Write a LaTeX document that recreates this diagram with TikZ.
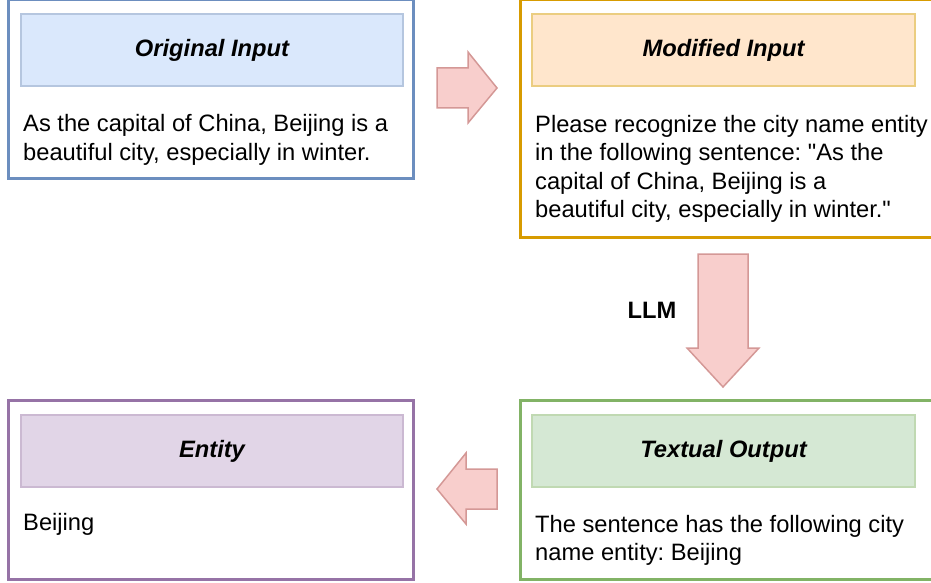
\documentclass[tikz,border=0pt]{standalone}
\usepackage{fontspec}
\setmainfont{Liberation Sans}
\usetikzlibrary{positioning}
\usetikzlibrary{calc}
\definecolor{blaurand}{HTML}{6C8EBF}
\definecolor{blaufuell}{HTML}{DAE8FC}
\definecolor{orangerand}{HTML}{D79B00}
\definecolor{orangefuell}{HTML}{FFE6CC}
\definecolor{gruenrand}{HTML}{82B366}
\definecolor{gruenfuell}{HTML}{D5E8D4}
\definecolor{lilarand}{HTML}{9673A6}
\definecolor{lilafuell}{HTML}{E1D5E7}
\definecolor{pfeilrand}{HTML}{B85450}
\definecolor{pfeilfuell}{HTML}{F8CECC}
\tikzset{
    rahmen/.style={draw, line width=3pt, fill=white, inner sep=0pt, outer sep=0pt},
    kopf/.style={draw, line width=1.5pt, inner sep=0pt, minimum height=72pt,
        font=\fontsize{23.7}{28.4}\selectfont\bfseries\itshape},
    inhalt/.style={anchor=base west, align=left, inner sep=0pt},
    blockpfeil/.style={draw=pfeilrand!60, fill=pfeilfuell, line width=1.5pt, line join=miter}
}
\frenchspacing

\begin{document}
\begin{tikzpicture}[x=1pt, y=-1pt, font=\fontsize{23.7}{28.4}\selectfont, black]

    \useasboundingbox (0,0) rectangle (931,583);

    % oben links
    \node[rahmen, draw=blaurand, minimum width=405pt, minimum height=178.5pt] (original) at (210.5,88.75) {};
    \node[kopf, draw=blaurand!50, fill=blaufuell, minimum width=382pt] (originalkopf) at (212,50) {Original Input};
    % base = letzte Zeile
    \node[inhalt] (originaltext) at (23,160) {As the capital of China, Beijing is a\\beautiful city, especially in winter.};

    % oben rechts
    \node[rahmen, draw=orangerand, minimum width=420pt, minimum height=237.5pt] (modified) at (730,118.25) {};
    \node[kopf, draw=orangerand!50, fill=orangefuell, minimum width=383pt] (modifiedkopf) at (723.5,50) {Modified Input};
    \node[inhalt] (modifiedtext) at (535,217.5) {Please recognize the city name entity\\in the following sentence: \textquotedbl As the\\capital of China, Beijing is a\\beautiful city, especially in winter.\textquotedbl};

    % unten rechts
    \node[rahmen, draw=gruenrand, minimum width=420pt, minimum height=179pt] (output) at (730,489.5) {};
    \node[kopf, draw=gruenrand!50, fill=gruenfuell, minimum width=383pt] (outputkopf) at (723.5,451) {Textual Output};
    \node[inhalt] (outputtext) at (535,560.5) {The sentence has the following city\\name entity: Beijing};

    % unten links
    \node[rahmen, draw=lilarand, minimum width=405pt, minimum height=179pt] (entity) at (210.5,489.5) {};
    \node[kopf, draw=lilarand!50, fill=lilafuell, minimum width=382pt] (entitykopf) at (212,451) {Entity};
    \node[inhalt] (entitytext) at (23,530) {Beijing};

    % Pfeile
    \draw[blockpfeil] (437,68) -- (468,68) -- (468,52) -- (497,88) -- (468,123) -- (468,108) -- (437,108) -- cycle;
    \draw[blockpfeil] (698,254) -- (748,254) -- (748,348) -- (759,348) -- (723,387) -- (687,348) -- (698,348) -- cycle;
    \draw[blockpfeil] (497,469) -- (466,469) -- (466,453) -- (437,489) -- (466,524) -- (466,509) -- (497,509) -- cycle;

    \node[font=\fontsize{23.7}{28.4}\selectfont\bfseries] (llm) at (652,310) {LLM};

\end{tikzpicture}
\end{document}
